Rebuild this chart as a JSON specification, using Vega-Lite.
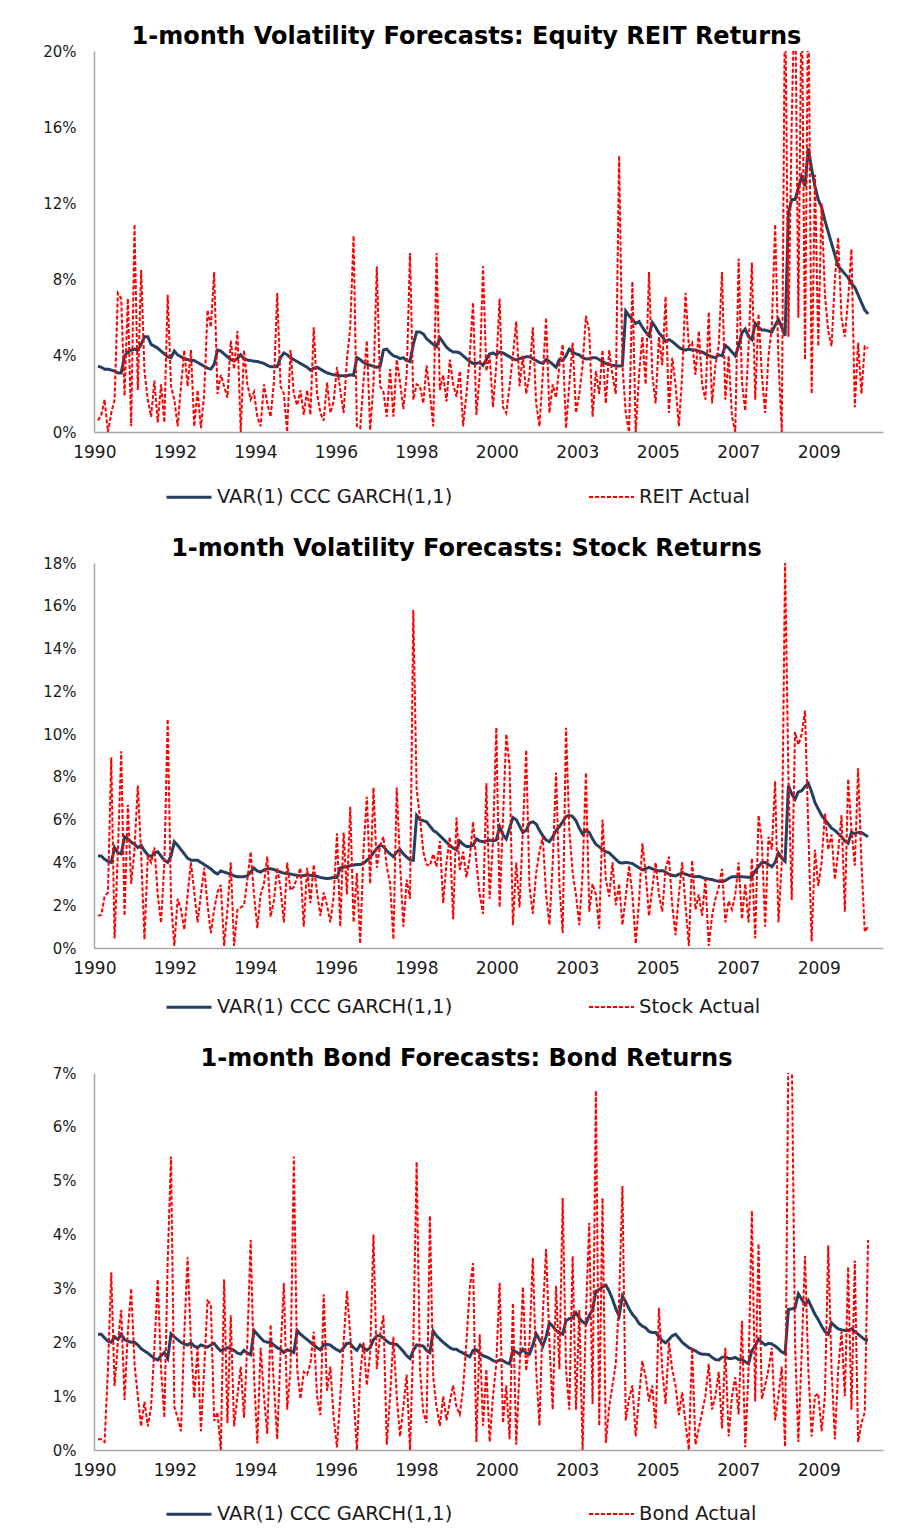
{
"$schema": "https://vega.github.io/schema/vega-lite/v6.json",
"background": "white",
"padding": {"left": 42, "top": 25, "right": 10, "bottom": 5},
"data": {"values": [
{"t":0,"rf":3.45,"ra":0.6,"sf":4.3,"sa":1.5,"bf":2.15,"ba":0.2},
{"t":1,"rf":3.4,"ra":0.9,"sf":4.3,"sa":1.55,"bf":2.15,"ba":0.2},
{"t":2,"rf":3.3,"ra":1.7,"sf":4.15,"sa":2.4,"bf":2.08,"ba":0.15},
{"t":3,"rf":3.3,"ra":0.0,"sf":4.05,"sa":2.6,"bf":2.02,"ba":1.5},
{"t":4,"rf":3.25,"ra":1.0,"sf":4.0,"sa":8.9,"bf":2.0,"ba":3.3},
{"t":5,"rf":3.2,"ra":1.7,"sf":4.7,"sa":0.45,"bf":2.1,"ba":1.19},
{"t":6,"rf":3.1,"ra":7.3,"sf":4.45,"sa":4.5,"bf":2.05,"ba":2.0},
{"t":7,"rf":3.1,"ra":7.0,"sf":4.4,"sa":9.2,"bf":2.15,"ba":2.6},
{"t":8,"rf":4.0,"ra":1.9,"sf":5.2,"sa":1.5,"bf":2.05,"ba":0.93},
{"t":9,"rf":4.2,"ra":7.0,"sf":5.1,"sa":6.7,"bf":2.02,"ba":2.2},
{"t":10,"rf":4.3,"ra":0.3,"sf":4.95,"sa":3.0,"bf":2.0,"ba":3.0},
{"t":11,"rf":4.35,"ra":10.9,"sf":4.85,"sa":4.6,"bf":2.0,"ba":1.6},
{"t":12,"rf":4.3,"ra":2.2,"sf":4.7,"sa":7.6,"bf":1.95,"ba":1.0},
{"t":13,"rf":4.6,"ra":8.5,"sf":4.8,"sa":4.4,"bf":1.88,"ba":0.44},
{"t":14,"rf":5.0,"ra":3.2,"sf":4.55,"sa":0.4,"bf":1.84,"ba":0.9},
{"t":15,"rf":5.0,"ra":1.7,"sf":4.35,"sa":4.27,"bf":1.8,"ba":0.44},
{"t":16,"rf":4.6,"ra":0.8,"sf":4.27,"sa":4.0,"bf":1.75,"ba":0.8},
{"t":17,"rf":4.5,"ra":2.7,"sf":4.45,"sa":4.7,"bf":1.7,"ba":1.9},
{"t":18,"rf":4.4,"ra":0.5,"sf":4.5,"sa":2.5,"bf":1.67,"ba":3.17},
{"t":19,"rf":4.25,"ra":2.5,"sf":4.3,"sa":1.17,"bf":1.75,"ba":1.5},
{"t":20,"rf":4.1,"ra":0.5,"sf":4.1,"sa":4.0,"bf":1.81,"ba":0.6},
{"t":21,"rf":3.95,"ra":7.2,"sf":4.0,"sa":10.7,"bf":1.7,"ba":3.5},
{"t":22,"rf":3.9,"ra":2.4,"sf":4.3,"sa":2.2,"bf":2.16,"ba":5.45},
{"t":23,"rf":4.25,"ra":1.7,"sf":4.97,"sa":0.1,"bf":2.1,"ba":0.8},
{"t":24,"rf":4.05,"ra":0.3,"sf":4.8,"sa":2.3,"bf":2.05,"ba":0.6},
{"t":25,"rf":3.95,"ra":2.4,"sf":4.6,"sa":1.8,"bf":2.0,"ba":0.35},
{"t":26,"rf":3.85,"ra":4.3,"sf":4.4,"sa":0.85,"bf":1.97,"ba":2.15},
{"t":27,"rf":3.8,"ra":2.4,"sf":4.2,"sa":2.5,"bf":1.95,"ba":3.58},
{"t":28,"rf":3.75,"ra":4.3,"sf":4.1,"sa":4.0,"bf":1.99,"ba":2.0},
{"t":29,"rf":3.75,"ra":0.3,"sf":4.1,"sa":2.6,"bf":1.93,"ba":0.96},
{"t":30,"rf":3.65,"ra":2.2,"sf":4.1,"sa":1.2,"bf":1.9,"ba":1.9},
{"t":31,"rf":3.55,"ra":0.2,"sf":4.0,"sa":2.5,"bf":1.95,"ba":0.35},
{"t":32,"rf":3.45,"ra":2.0,"sf":3.9,"sa":3.75,"bf":1.93,"ba":1.5},
{"t":33,"rf":3.35,"ra":6.4,"sf":3.8,"sa":2.0,"bf":1.91,"ba":2.77},
{"t":34,"rf":3.3,"ra":5.5,"sf":3.7,"sa":0.7,"bf":1.95,"ba":2.7},
{"t":35,"rf":3.55,"ra":8.4,"sf":3.55,"sa":1.8,"bf":1.98,"ba":0.54},
{"t":36,"rf":4.3,"ra":2.0,"sf":3.46,"sa":2.6,"bf":1.9,"ba":0.7},
{"t":37,"rf":4.25,"ra":3.0,"sf":3.6,"sa":2.95,"bf":1.84,"ba":0.0},
{"t":38,"rf":4.1,"ra":2.4,"sf":3.55,"sa":0.1,"bf":1.87,"ba":3.17},
{"t":39,"rf":3.95,"ra":1.8,"sf":3.5,"sa":1.8,"bf":1.9,"ba":0.5},
{"t":40,"rf":3.8,"ra":4.8,"sf":3.45,"sa":4.0,"bf":1.88,"ba":2.5},
{"t":41,"rf":3.75,"ra":3.3,"sf":3.37,"sa":0.1,"bf":1.85,"ba":0.44},
{"t":42,"rf":3.85,"ra":5.3,"sf":3.33,"sa":1.78,"bf":1.8,"ba":1.0},
{"t":43,"rf":4.05,"ra":0.0,"sf":3.33,"sa":1.9,"bf":1.78,"ba":1.55},
{"t":44,"rf":3.85,"ra":4.3,"sf":3.33,"sa":2.0,"bf":1.85,"ba":0.6},
{"t":45,"rf":3.78,"ra":2.5,"sf":3.38,"sa":3.2,"bf":1.8,"ba":2.0},
{"t":46,"rf":3.75,"ra":1.7,"sf":3.55,"sa":4.5,"bf":1.77,"ba":3.9},
{"t":47,"rf":3.72,"ra":2.1,"sf":3.74,"sa":2.5,"bf":2.22,"ba":1.4},
{"t":48,"rf":3.7,"ra":0.8,"sf":3.6,"sa":0.93,"bf":2.15,"ba":0.12},
{"t":49,"rf":3.65,"ra":0.3,"sf":3.55,"sa":2.5,"bf":2.08,"ba":1.9},
{"t":50,"rf":3.6,"ra":2.5,"sf":3.65,"sa":3.0,"bf":2.02,"ba":1.0},
{"t":51,"rf":3.5,"ra":1.5,"sf":3.7,"sa":4.27,"bf":2.0,"ba":0.3},
{"t":52,"rf":3.43,"ra":0.8,"sf":3.7,"sa":1.46,"bf":2.0,"ba":2.33},
{"t":53,"rf":3.42,"ra":2.6,"sf":3.67,"sa":2.2,"bf":1.95,"ba":1.2},
{"t":54,"rf":3.43,"ra":7.3,"sf":3.6,"sa":3.75,"bf":1.9,"ba":0.2},
{"t":55,"rf":3.9,"ra":2.4,"sf":3.55,"sa":2.8,"bf":1.87,"ba":1.8},
{"t":56,"rf":4.15,"ra":2.0,"sf":3.5,"sa":1.2,"bf":1.81,"ba":3.1},
{"t":57,"rf":4.05,"ra":0.0,"sf":3.48,"sa":4.0,"bf":1.86,"ba":0.75},
{"t":58,"rf":3.9,"ra":4.3,"sf":3.46,"sa":2.7,"bf":1.84,"ba":1.5},
{"t":59,"rf":3.8,"ra":2.0,"sf":3.42,"sa":2.85,"bf":1.81,"ba":5.45},
{"t":60,"rf":3.7,"ra":1.4,"sf":3.4,"sa":3.3,"bf":2.22,"ba":1.5},
{"t":61,"rf":3.6,"ra":2.2,"sf":3.37,"sa":3.74,"bf":2.15,"ba":0.95},
{"t":62,"rf":3.5,"ra":0.9,"sf":3.38,"sa":1.0,"bf":2.1,"ba":1.45},
{"t":63,"rf":3.4,"ra":2.2,"sf":3.42,"sa":3.75,"bf":2.05,"ba":1.4},
{"t":64,"rf":3.25,"ra":0.9,"sf":3.4,"sa":2.1,"bf":2.0,"ba":1.6},
{"t":65,"rf":3.35,"ra":5.5,"sf":3.38,"sa":3.9,"bf":1.95,"ba":2.2},
{"t":66,"rf":3.4,"ra":2.0,"sf":3.35,"sa":2.6,"bf":1.9,"ba":1.0},
{"t":67,"rf":3.3,"ra":1.0,"sf":3.3,"sa":1.5,"bf":1.86,"ba":0.65},
{"t":68,"rf":3.2,"ra":0.6,"sf":3.27,"sa":2.6,"bf":1.96,"ba":2.89},
{"t":69,"rf":3.1,"ra":2.6,"sf":3.25,"sa":2.0,"bf":1.96,"ba":1.1},
{"t":70,"rf":3.05,"ra":1.0,"sf":3.26,"sa":1.2,"bf":1.95,"ba":1.55},
{"t":71,"rf":3.0,"ra":1.6,"sf":3.3,"sa":2.4,"bf":1.9,"ba":0.6},
{"t":72,"rf":2.98,"ra":3.4,"sf":3.3,"sa":5.36,"bf":1.86,"ba":0.05},
{"t":73,"rf":2.95,"ra":2.2,"sf":3.74,"sa":1.0,"bf":1.83,"ba":1.0},
{"t":74,"rf":2.95,"ra":1.0,"sf":3.78,"sa":5.4,"bf":1.9,"ba":2.0},
{"t":75,"rf":2.95,"ra":3.8,"sf":3.8,"sa":2.5,"bf":1.98,"ba":2.95},
{"t":76,"rf":3.0,"ra":5.5,"sf":3.85,"sa":6.6,"bf":1.98,"ba":2.15},
{"t":77,"rf":2.98,"ra":10.3,"sf":3.88,"sa":1.2,"bf":1.9,"ba":1.0},
{"t":78,"rf":3.9,"ra":0.3,"sf":3.9,"sa":3.5,"bf":1.85,"ba":0.0},
{"t":79,"rf":3.8,"ra":0.2,"sf":3.9,"sa":0.2,"bf":1.95,"ba":1.4},
{"t":80,"rf":3.65,"ra":2.7,"sf":3.95,"sa":4.6,"bf":1.9,"ba":2.0},
{"t":81,"rf":3.55,"ra":4.8,"sf":4.1,"sa":7.07,"bf":1.85,"ba":1.2},
{"t":82,"rf":3.5,"ra":0.1,"sf":4.25,"sa":3.0,"bf":1.9,"ba":1.8},
{"t":83,"rf":3.45,"ra":2.5,"sf":4.45,"sa":7.5,"bf":2.05,"ba":4.0},
{"t":84,"rf":3.4,"ra":8.7,"sf":4.65,"sa":3.75,"bf":2.12,"ba":1.5},
{"t":85,"rf":3.45,"ra":2.4,"sf":4.8,"sa":4.8,"bf":2.12,"ba":2.15},
{"t":86,"rf":4.3,"ra":2.1,"sf":4.75,"sa":5.2,"bf":2.08,"ba":2.5},
{"t":87,"rf":4.35,"ra":0.8,"sf":4.55,"sa":3.8,"bf":2.02,"ba":0.1},
{"t":88,"rf":4.15,"ra":3.3,"sf":4.4,"sa":3.0,"bf":1.98,"ba":1.0},
{"t":89,"rf":4.0,"ra":0.8,"sf":4.27,"sa":0.4,"bf":1.97,"ba":2.1},
{"t":90,"rf":3.95,"ra":3.8,"sf":4.5,"sa":7.5,"bf":1.96,"ba":1.0},
{"t":91,"rf":3.85,"ra":2.6,"sf":4.6,"sa":4.0,"bf":1.9,"ba":0.25},
{"t":92,"rf":3.9,"ra":1.2,"sf":4.4,"sa":1.0,"bf":1.83,"ba":0.8},
{"t":93,"rf":3.75,"ra":3.0,"sf":4.25,"sa":3.2,"bf":1.75,"ba":1.4},
{"t":94,"rf":3.7,"ra":9.4,"sf":4.12,"sa":2.3,"bf":1.7,"ba":0.0},
{"t":95,"rf":4.6,"ra":1.7,"sf":4.1,"sa":15.8,"bf":1.85,"ba":2.0},
{"t":96,"rf":5.25,"ra":2.5,"sf":6.2,"sa":7.4,"bf":1.95,"ba":5.35},
{"t":97,"rf":5.25,"ra":2.4,"sf":6.0,"sa":6.1,"bf":1.94,"ba":1.5},
{"t":98,"rf":5.15,"ra":1.5,"sf":5.95,"sa":4.5,"bf":1.93,"ba":0.7},
{"t":99,"rf":4.9,"ra":3.5,"sf":5.9,"sa":3.9,"bf":1.85,"ba":0.5},
{"t":100,"rf":4.75,"ra":2.0,"sf":5.7,"sa":3.85,"bf":1.81,"ba":4.35},
{"t":101,"rf":4.6,"ra":0.3,"sf":5.5,"sa":4.4,"bf":2.21,"ba":1.35},
{"t":102,"rf":4.48,"ra":9.4,"sf":5.4,"sa":3.8,"bf":2.12,"ba":0.8},
{"t":103,"rf":4.95,"ra":2.2,"sf":5.25,"sa":5.0,"bf":2.06,"ba":0.45},
{"t":104,"rf":4.7,"ra":3.0,"sf":5.1,"sa":2.1,"bf":2.0,"ba":1.0},
{"t":105,"rf":4.45,"ra":1.6,"sf":4.95,"sa":4.0,"bf":1.95,"ba":0.55},
{"t":106,"rf":4.3,"ra":3.8,"sf":4.8,"sa":5.2,"bf":1.9,"ba":0.9},
{"t":107,"rf":4.2,"ra":2.5,"sf":4.67,"sa":1.35,"bf":1.87,"ba":1.2},
{"t":108,"rf":4.2,"ra":1.85,"sf":4.58,"sa":6.1,"bf":1.87,"ba":0.8},
{"t":109,"rf":4.15,"ra":3.2,"sf":5.0,"sa":3.65,"bf":1.83,"ba":0.66},
{"t":110,"rf":4.0,"ra":0.3,"sf":4.85,"sa":4.5,"bf":1.8,"ba":1.15},
{"t":111,"rf":3.85,"ra":2.0,"sf":4.75,"sa":3.3,"bf":1.76,"ba":2.0},
{"t":112,"rf":3.7,"ra":4.0,"sf":4.75,"sa":4.2,"bf":1.73,"ba":3.0},
{"t":113,"rf":3.6,"ra":6.8,"sf":4.8,"sa":5.9,"bf":1.85,"ba":3.47},
{"t":114,"rf":3.6,"ra":0.9,"sf":5.1,"sa":4.0,"bf":1.86,"ba":0.15},
{"t":115,"rf":3.65,"ra":3.0,"sf":5.0,"sa":2.5,"bf":1.8,"ba":2.15},
{"t":116,"rf":3.5,"ra":8.7,"sf":4.97,"sa":1.6,"bf":1.75,"ba":0.45},
{"t":117,"rf":3.8,"ra":3.2,"sf":5.0,"sa":7.7,"bf":1.73,"ba":1.5},
{"t":118,"rf":4.1,"ra":4.0,"sf":5.05,"sa":2.3,"bf":1.7,"ba":0.15},
{"t":119,"rf":4.15,"ra":1.3,"sf":5.0,"sa":5.0,"bf":1.66,"ba":1.0},
{"t":120,"rf":4.05,"ra":3.5,"sf":5.05,"sa":10.3,"bf":1.64,"ba":1.6},
{"t":121,"rf":4.2,"ra":7.0,"sf":5.67,"sa":1.9,"bf":1.67,"ba":3.1},
{"t":122,"rf":4.15,"ra":1.3,"sf":5.3,"sa":6.0,"bf":1.66,"ba":0.5},
{"t":123,"rf":4.05,"ra":1.0,"sf":5.1,"sa":10.0,"bf":1.62,"ba":1.2},
{"t":124,"rf":3.95,"ra":2.4,"sf":5.6,"sa":8.5,"bf":1.6,"ba":0.2},
{"t":125,"rf":3.85,"ra":4.0,"sf":6.1,"sa":1.07,"bf":1.85,"ba":2.73},
{"t":126,"rf":3.78,"ra":5.8,"sf":6.0,"sa":4.0,"bf":1.82,"ba":0.1},
{"t":127,"rf":3.85,"ra":2.4,"sf":5.7,"sa":1.9,"bf":1.78,"ba":1.5},
{"t":128,"rf":3.9,"ra":4.0,"sf":5.4,"sa":5.5,"bf":1.87,"ba":3.03},
{"t":129,"rf":3.95,"ra":2.0,"sf":5.5,"sa":9.26,"bf":1.8,"ba":1.47},
{"t":130,"rf":3.95,"ra":3.0,"sf":5.85,"sa":2.85,"bf":1.78,"ba":2.0},
{"t":131,"rf":3.85,"ra":5.5,"sf":5.9,"sa":1.6,"bf":1.95,"ba":3.57},
{"t":132,"rf":3.75,"ra":1.5,"sf":5.8,"sa":3.5,"bf":2.16,"ba":1.5},
{"t":133,"rf":3.65,"ra":0.3,"sf":5.5,"sa":4.5,"bf":2.05,"ba":0.45},
{"t":134,"rf":3.6,"ra":3.0,"sf":5.25,"sa":5.2,"bf":1.93,"ba":2.5},
{"t":135,"rf":3.8,"ra":6.0,"sf":5.05,"sa":2.5,"bf":2.1,"ba":3.73},
{"t":136,"rf":3.7,"ra":1.0,"sf":4.97,"sa":1.07,"bf":2.36,"ba":2.0},
{"t":137,"rf":3.55,"ra":2.5,"sf":5.2,"sa":4.0,"bf":2.3,"ba":0.75},
{"t":138,"rf":3.4,"ra":1.8,"sf":5.5,"sa":8.2,"bf":2.22,"ba":3.05},
{"t":139,"rf":3.8,"ra":3.5,"sf":5.67,"sa":3.0,"bf":2.18,"ba":1.5},
{"t":140,"rf":3.75,"ra":4.6,"sf":5.9,"sa":0.7,"bf":2.15,"ba":4.68},
{"t":141,"rf":4.0,"ra":0.2,"sf":6.15,"sa":10.3,"bf":2.4,"ba":1.5},
{"t":142,"rf":4.35,"ra":2.5,"sf":6.2,"sa":5.5,"bf":2.44,"ba":0.75},
{"t":143,"rf":4.2,"ra":4.7,"sf":6.15,"sa":3.5,"bf":2.46,"ba":3.6},
{"t":144,"rf":4.1,"ra":1.0,"sf":5.95,"sa":2.5,"bf":2.55,"ba":0.75},
{"t":145,"rf":4.05,"ra":2.0,"sf":5.6,"sa":1.07,"bf":2.45,"ba":2.6},
{"t":146,"rf":3.9,"ra":3.5,"sf":5.33,"sa":3.5,"bf":2.38,"ba":0.0},
{"t":147,"rf":3.83,"ra":6.1,"sf":5.5,"sa":8.2,"bf":2.34,"ba":2.5},
{"t":148,"rf":3.85,"ra":5.3,"sf":5.4,"sa":1.7,"bf":2.5,"ba":4.22},
{"t":149,"rf":3.9,"ra":0.8,"sf":5.1,"sa":3.0,"bf":2.6,"ba":0.85},
{"t":150,"rf":3.9,"ra":3.2,"sf":4.85,"sa":2.5,"bf":2.95,"ba":6.67},
{"t":151,"rf":3.8,"ra":2.0,"sf":4.73,"sa":0.9,"bf":2.98,"ba":0.45},
{"t":152,"rf":3.69,"ra":4.3,"sf":4.6,"sa":6.0,"bf":3.03,"ba":4.68},
{"t":153,"rf":3.6,"ra":1.5,"sf":4.5,"sa":3.2,"bf":3.06,"ba":0.13},
{"t":154,"rf":3.55,"ra":4.3,"sf":4.45,"sa":2.4,"bf":2.95,"ba":0.8},
{"t":155,"rf":3.5,"ra":3.0,"sf":4.3,"sa":4.0,"bf":2.8,"ba":1.2},
{"t":156,"rf":3.48,"ra":2.0,"sf":4.15,"sa":2.0,"bf":2.62,"ba":1.6},
{"t":157,"rf":3.46,"ra":14.5,"sf":4.0,"sa":3.0,"bf":2.49,"ba":2.8},
{"t":158,"rf":3.5,"ra":3.5,"sf":3.97,"sa":1.07,"bf":2.86,"ba":4.9},
{"t":159,"rf":6.35,"ra":1.0,"sf":4.0,"sa":2.4,"bf":2.75,"ba":0.55},
{"t":160,"rf":6.1,"ra":0.0,"sf":3.98,"sa":3.85,"bf":2.62,"ba":0.95},
{"t":161,"rf":5.9,"ra":7.9,"sf":3.95,"sa":2.5,"bf":2.52,"ba":1.2},
{"t":162,"rf":5.7,"ra":0.0,"sf":3.85,"sa":0.2,"bf":2.45,"ba":0.25},
{"t":163,"rf":5.8,"ra":3.0,"sf":3.75,"sa":2.2,"bf":2.35,"ba":1.0},
{"t":164,"rf":5.5,"ra":5.0,"sf":3.65,"sa":4.9,"bf":2.3,"ba":1.65},
{"t":165,"rf":5.25,"ra":2.5,"sf":3.7,"sa":3.5,"bf":2.27,"ba":1.35},
{"t":166,"rf":5.05,"ra":8.4,"sf":3.77,"sa":1.5,"bf":2.2,"ba":0.9},
{"t":167,"rf":5.75,"ra":3.0,"sf":3.7,"sa":2.8,"bf":2.18,"ba":1.2},
{"t":168,"rf":5.5,"ra":1.5,"sf":3.65,"sa":4.0,"bf":2.18,"ba":0.4},
{"t":169,"rf":5.2,"ra":5.0,"sf":3.6,"sa":2.5,"bf":2.1,"ba":2.64},
{"t":170,"rf":5.0,"ra":3.5,"sf":3.62,"sa":1.7,"bf":2.03,"ba":1.5},
{"t":171,"rf":4.75,"ra":7.1,"sf":3.55,"sa":3.7,"bf":1.99,"ba":0.85},
{"t":172,"rf":4.85,"ra":1.0,"sf":3.45,"sa":4.27,"bf":2.05,"ba":2.0},
{"t":173,"rf":4.75,"ra":3.9,"sf":3.4,"sa":2.0,"bf":2.12,"ba":1.5},
{"t":174,"rf":4.6,"ra":2.5,"sf":3.37,"sa":0.6,"bf":2.15,"ba":1.2},
{"t":175,"rf":4.45,"ra":0.3,"sf":3.45,"sa":2.5,"bf":2.08,"ba":0.65},
{"t":176,"rf":4.35,"ra":3.0,"sf":3.5,"sa":4.0,"bf":2.0,"ba":1.07},
{"t":177,"rf":4.3,"ra":7.3,"sf":3.45,"sa":2.0,"bf":1.95,"ba":0.5},
{"t":178,"rf":4.35,"ra":4.5,"sf":3.4,"sa":0.1,"bf":1.9,"ba":0.0},
{"t":179,"rf":4.3,"ra":4.7,"sf":3.35,"sa":4.1,"bf":1.87,"ba":1.9},
{"t":180,"rf":4.3,"ra":3.0,"sf":3.33,"sa":1.8,"bf":1.84,"ba":0.1},
{"t":181,"rf":4.25,"ra":5.3,"sf":3.35,"sa":2.5,"bf":1.8,"ba":0.4},
{"t":182,"rf":4.2,"ra":2.5,"sf":3.3,"sa":1.5,"bf":1.78,"ba":0.7},
{"t":183,"rf":4.1,"ra":1.7,"sf":3.25,"sa":3.2,"bf":1.78,"ba":1.0},
{"t":184,"rf":4.0,"ra":6.3,"sf":3.22,"sa":0.1,"bf":1.77,"ba":1.6},
{"t":185,"rf":3.95,"ra":1.5,"sf":3.2,"sa":1.5,"bf":1.72,"ba":0.75},
{"t":186,"rf":3.9,"ra":3.5,"sf":3.15,"sa":2.3,"bf":1.68,"ba":1.0},
{"t":187,"rf":4.05,"ra":4.5,"sf":3.12,"sa":2.8,"bf":1.67,"ba":1.45},
{"t":188,"rf":4.0,"ra":8.4,"sf":3.1,"sa":3.7,"bf":1.72,"ba":0.4},
{"t":189,"rf":4.55,"ra":1.7,"sf":3.15,"sa":1.2,"bf":1.73,"ba":1.9},
{"t":190,"rf":4.4,"ra":4.0,"sf":3.25,"sa":2.2,"bf":1.7,"ba":0.25},
{"t":191,"rf":4.2,"ra":0.8,"sf":3.33,"sa":1.8,"bf":1.7,"ba":1.0},
{"t":192,"rf":4.0,"ra":0.0,"sf":3.33,"sa":2.5,"bf":1.72,"ba":1.35},
{"t":193,"rf":4.5,"ra":9.1,"sf":3.33,"sa":4.0,"bf":1.68,"ba":0.66},
{"t":194,"rf":5.2,"ra":2.6,"sf":3.33,"sa":1.35,"bf":1.68,"ba":2.4},
{"t":195,"rf":5.4,"ra":1.1,"sf":3.32,"sa":3.0,"bf":1.64,"ba":0.05},
{"t":196,"rf":5.0,"ra":4.5,"sf":3.3,"sa":1.2,"bf":1.6,"ba":1.5},
{"t":197,"rf":4.85,"ra":8.9,"sf":3.35,"sa":4.2,"bf":1.85,"ba":4.44},
{"t":198,"rf":5.7,"ra":1.7,"sf":3.6,"sa":0.45,"bf":1.93,"ba":0.9},
{"t":199,"rf":5.5,"ra":6.2,"sf":3.8,"sa":6.2,"bf":2.06,"ba":3.83},
{"t":200,"rf":5.35,"ra":3.0,"sf":4.0,"sa":5.0,"bf":2.0,"ba":0.95},
{"t":201,"rf":5.35,"ra":1.0,"sf":4.0,"sa":1.0,"bf":1.95,"ba":1.2},
{"t":202,"rf":5.3,"ra":4.0,"sf":3.9,"sa":5.2,"bf":1.98,"ba":1.5},
{"t":203,"rf":5.25,"ra":5.5,"sf":3.8,"sa":4.6,"bf":1.97,"ba":1.9},
{"t":204,"rf":5.6,"ra":10.9,"sf":4.0,"sa":7.8,"bf":1.93,"ba":0.55},
{"t":205,"rf":5.9,"ra":3.8,"sf":4.44,"sa":1.2,"bf":1.88,"ba":1.0},
{"t":206,"rf":5.5,"ra":0.0,"sf":4.2,"sa":4.0,"bf":1.82,"ba":1.55},
{"t":207,"rf":5.05,"ra":24,"sf":4.05,"sa":18.0,"bf":1.79,"ba":0.06},
{"t":208,"rf":11.5,"ra":5.0,"sf":7.6,"sa":8.0,"bf":2.61,"ba":7.5},
{"t":209,"rf":12.2,"ra":16.3,"sf":7.2,"sa":2.25,"bf":2.62,"ba":7.5},
{"t":210,"rf":12.2,"ra":24,"sf":6.95,"sa":10.1,"bf":2.64,"ba":2.0},
{"t":211,"rf":12.8,"ra":6.0,"sf":7.3,"sa":9.5,"bf":2.9,"ba":0.15},
{"t":212,"rf":13.4,"ra":24,"sf":7.35,"sa":10.0,"bf":2.8,"ba":1.8},
{"t":213,"rf":12.9,"ra":3.8,"sf":7.55,"sa":11.1,"bf":2.7,"ba":3.6},
{"t":214,"rf":14.9,"ra":24,"sf":7.7,"sa":5.5,"bf":2.78,"ba":1.5},
{"t":215,"rf":13.8,"ra":2.0,"sf":7.3,"sa":0.3,"bf":2.65,"ba":0.25},
{"t":216,"rf":12.9,"ra":13.5,"sf":6.8,"sa":4.6,"bf":2.52,"ba":1.0},
{"t":217,"rf":12.2,"ra":4.5,"sf":6.5,"sa":2.9,"bf":2.42,"ba":1.05},
{"t":218,"rf":11.8,"ra":12.0,"sf":6.2,"sa":4.0,"bf":2.3,"ba":0.35},
{"t":219,"rf":11.1,"ra":7.2,"sf":6.0,"sa":6.3,"bf":2.2,"ba":1.0},
{"t":220,"rf":10.5,"ra":5.3,"sf":5.8,"sa":4.6,"bf":2.15,"ba":3.8},
{"t":221,"rf":9.9,"ra":4.5,"sf":5.6,"sa":5.3,"bf":2.36,"ba":1.5},
{"t":222,"rf":9.3,"ra":8.0,"sf":5.5,"sa":3.2,"bf":2.3,"ba":0.2},
{"t":223,"rf":8.7,"ra":10.2,"sf":5.35,"sa":4.5,"bf":2.25,"ba":1.5},
{"t":224,"rf":8.5,"ra":6.0,"sf":5.2,"sa":6.2,"bf":2.23,"ba":2.2},
{"t":225,"rf":8.3,"ra":5.0,"sf":5.0,"sa":1.7,"bf":2.22,"ba":1.0},
{"t":226,"rf":8.1,"ra":7.0,"sf":4.9,"sa":7.9,"bf":2.22,"ba":3.4},
{"t":227,"rf":7.8,"ra":9.6,"sf":5.4,"sa":5.5,"bf":2.25,"ba":0.75},
{"t":228,"rf":7.6,"ra":1.3,"sf":5.35,"sa":3.85,"bf":2.2,"ba":3.52},
{"t":229,"rf":7.2,"ra":4.7,"sf":5.4,"sa":8.4,"bf":2.15,"ba":0.15},
{"t":230,"rf":6.8,"ra":2.0,"sf":5.4,"sa":4.0,"bf":2.1,"ba":0.5},
{"t":231,"rf":6.4,"ra":4.5,"sf":5.3,"sa":0.76,"bf":2.05,"ba":0.7},
{"t":232,"rf":6.2,"ra":4.4,"sf":5.2,"sa":1.0,"bf":2.04,"ba":3.9}
]},
"spacing": 30,
"vconcat": [
{
"title": {"text": "1-month Volatility Forecasts: Equity REIT Returns"},
"width": 789, "height": 381,
"transform": [{"fold": ["rf", "ra"], "as": ["key", "v"]}],
"mark": {"type": "line", "clip": true},
"encoding": {
"x": {"field": "t", "type": "quantitative", "scale": {"domain": [-1.2, 236.5], "nice": false, "zero": false}, "axis": {"title": null, "values": [-1.1,23.15,47.4,71.65,95.9,120.15,144.4,168.65,192.9,217.15], "labelExpr": "['1990','1992','1994','1996','1998','2000','2003','2005','2007','2009'][round((datum.value+1.1)/24.25)]"}},
"y": {"field": "v", "type": "quantitative", "scale": {"domain": [0, 20], "nice": false}, "axis": {"title": null, "values": [0,4,8,12,16,20], "labelExpr": "datum.value + '%'"}},
"color": {"field": "key", "type": "nominal", "scale": {"domain": ["rf","ra"], "range": ["#253F5F","#FF0000"]}, "legend": {"orient": "none", "legendX": 71, "legendY": 422, "direction": "horizontal", "title": null, "labelExpr": "datum.value == 'rf' ? 'VAR(1) CCC GARCH(1,1)' : 'REIT Actual'"}},
"strokeDash": {"field": "key", "type": "nominal", "scale": {"domain": ["rf","ra"], "range": [[1,0],[4,2]]}, "legend": {"orient": "none", "legendX": 71, "legendY": 422, "direction": "horizontal", "title": null, "labelExpr": "datum.value == 'rf' ? 'VAR(1) CCC GARCH(1,1)' : 'REIT Actual'"}},
"strokeWidth": {"field": "key", "type": "nominal", "scale": {"domain": ["rf","ra"], "range": [3,2]}, "legend": null}
}
},
{
"title": {"text": "1-month Volatility Forecasts: Stock Returns"},
"width": 789, "height": 385,
"transform": [{"fold": ["sf", "sa"], "as": ["key", "v"]}],
"mark": {"type": "line", "clip": true},
"encoding": {
"x": {"field": "t", "type": "quantitative", "scale": {"domain": [-1.2, 236.5], "nice": false, "zero": false}, "axis": {"title": null, "values": [-1.1,23.15,47.4,71.65,95.9,120.15,144.4,168.65,192.9,217.15], "labelExpr": "['1990','1992','1994','1996','1998','2000','2003','2005','2007','2009'][round((datum.value+1.1)/24.25)]"}},
"y": {"field": "v", "type": "quantitative", "scale": {"domain": [0, 18], "nice": false}, "axis": {"title": null, "values": [0,2,4,6,8,10,12,14,16,18], "labelExpr": "datum.value + '%'"}},
"color": {"field": "key", "type": "nominal", "scale": {"domain": ["sf","sa"], "range": ["#253F5F","#FF0000"]}, "legend": {"orient": "none", "legendX": 71, "legendY": 420, "direction": "horizontal", "title": null, "labelExpr": "datum.value == 'sf' ? 'VAR(1) CCC GARCH(1,1)' : 'Stock Actual'"}},
"strokeDash": {"field": "key", "type": "nominal", "scale": {"domain": ["sf","sa"], "range": [[1,0],[4,2]]}, "legend": {"orient": "none", "legendX": 71, "legendY": 420, "direction": "horizontal", "title": null, "labelExpr": "datum.value == 'sf' ? 'VAR(1) CCC GARCH(1,1)' : 'Stock Actual'"}},
"strokeWidth": {"field": "key", "type": "nominal", "scale": {"domain": ["sf","sa"], "range": [3,2]}, "legend": null}
}
},
{
"title": {"text": "1-month Bond Forecasts: Bond Returns"},
"width": 789, "height": 377,
"transform": [{"fold": ["bf", "ba"], "as": ["key", "v"]}],
"mark": {"type": "line", "clip": true},
"encoding": {
"x": {"field": "t", "type": "quantitative", "scale": {"domain": [-1.2, 236.5], "nice": false, "zero": false}, "axis": {"title": null, "values": [-1.1,23.15,47.4,71.65,95.9,120.15,144.4,168.65,192.9,217.15], "labelExpr": "['1990','1992','1994','1996','1998','2000','2003','2005','2007','2009'][round((datum.value+1.1)/24.25)]"}},
"y": {"field": "v", "type": "quantitative", "scale": {"domain": [0, 7], "nice": false}, "axis": {"title": null, "values": [0,1,2,3,4,5,6,7], "labelExpr": "datum.value + '%'"}},
"color": {"field": "key", "type": "nominal", "scale": {"domain": ["bf","ba"], "range": ["#253F5F","#FF0000"]}, "legend": {"orient": "none", "legendX": 71, "legendY": 417, "direction": "horizontal", "title": null, "labelExpr": "datum.value == 'bf' ? 'VAR(1) CCC GARCH(1,1)' : 'Bond Actual'"}},
"strokeDash": {"field": "key", "type": "nominal", "scale": {"domain": ["bf","ba"], "range": [[1,0],[4,2]]}, "legend": {"orient": "none", "legendX": 71, "legendY": 417, "direction": "horizontal", "title": null, "labelExpr": "datum.value == 'bf' ? 'VAR(1) CCC GARCH(1,1)' : 'Bond Actual'"}},
"strokeWidth": {"field": "key", "type": "nominal", "scale": {"domain": ["bf","ba"], "range": [3,2]}, "legend": null}
}
}
],
"resolve": {"scale": {"x": "independent", "y": "independent", "color": "independent", "strokeDash": "independent", "strokeWidth": "independent"}, "legend": {"color": "independent", "strokeDash": "independent", "strokeWidth": "independent"}},
"config": {
"font": "DejaVu Sans",
"view": {"stroke": null},
"axis": {"grid": false, "ticks": false, "domainColor": "#a6a6a6", "domainWidth": 1.5, "labelColor": "#1a1a1a", "labelFont": "DejaVu Sans"},
"axisX": {"labelFontSize": 17, "labelPadding": 12, "labelFlush": false, "labelOverlap": false},
"axisY": {"labelFontSize": 15, "labelPadding": 18},
"title": {"fontSize": 24, "font": "DejaVu Sans", "fontWeight": "bold", "color": "#000000", "anchor": "middle", "frame": "group", "dx": -22, "offset": -5},
"legend": {"labelFontSize": 19.5, "labelFont": "DejaVu Sans", "labelColor": "#1a1a1a", "labelLimit": 0, "symbolType": "stroke", "symbolSize": 2025, "symbolStrokeWidth": 2.5, "columnPadding": 132, "labelOffset": 4, "padding": 0}
}
}
